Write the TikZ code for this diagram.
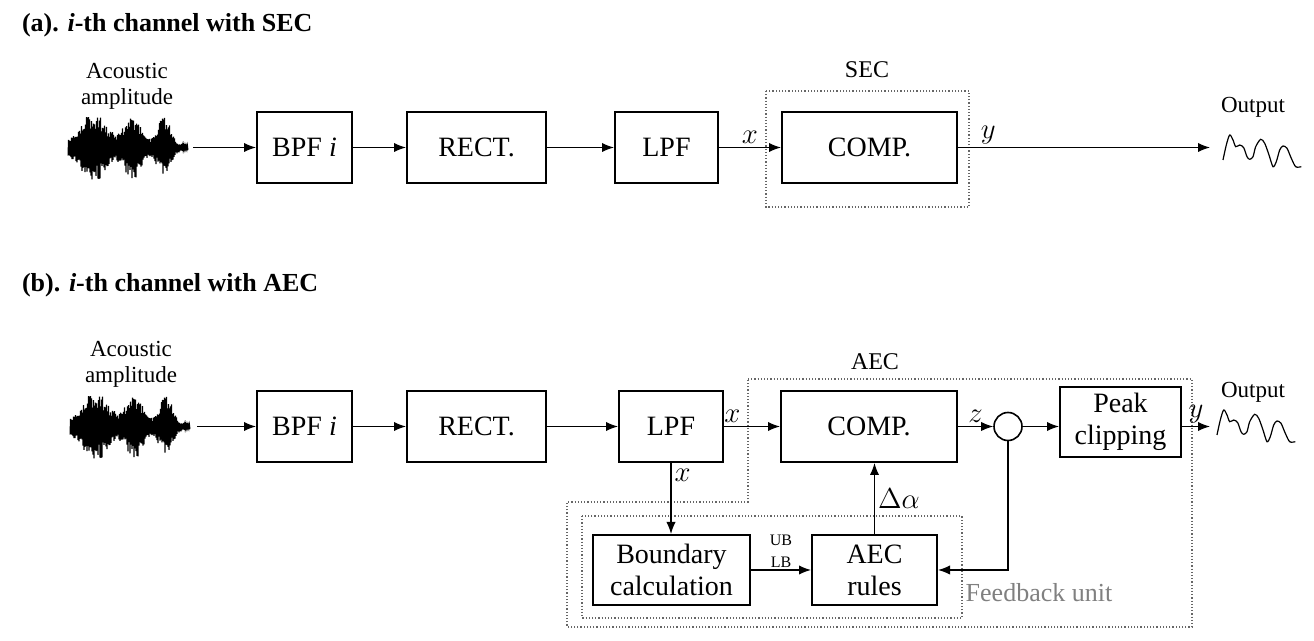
\documentclass[tikz,border=0pt]{standalone}
\usepackage{fontspec}
\setmainfont{Liberation Serif}
\usepackage{amsmath}
\usetikzlibrary{arrows.meta,positioning}

\tikzset{
  blk/.style={draw, line width=1pt, minimum height=35.5pt, inner sep=2pt,
    align=center, font=\fontsize{14}{16}\selectfont},
  arr/.style={-{Latex[length=6pt,width=4.6pt]}, line width=0.6pt},
  dotbox/.style={draw=black!60, densely dotted, line width=0.6pt},
  lbl/.style={inner sep=1.5pt, font=\fontsize{14}{16}\selectfont},
  small/.style={inner sep=1pt, align=center, font=\fontsize{8}{11}\selectfont},
  grplbl/.style={font=\fontsize{12}{14}\selectfont},
  sidetxt/.style={align=center, font=\fontsize{11.5}{13}\selectfont},
  title/.style={anchor=west, font=\fontsize{13}{15}\selectfont\bfseries},
  declare function={env(\t)=31*exp(max(-9,-((\t-25)/19)*((\t-25)/19)))
    +29*exp(max(-9,-((\t-65)/12)*((\t-65)/12)))
    +26*exp(max(-9,-((\t-96)/9.5)*((\t-96)/9.5)))+2.5;}
}

%% acoustic signal, drawn from its left end
\newcommand{\soundwave}{%
  \pgfmathsetseed{11}%
  \draw[line width=0.5pt] (0,0) \foreach \k in {0,...,240} {
    -- ({0.5*\k}, {(1-2*mod(\k,2))*(0.55+0.5*rnd)*env(0.5*\k)})};
}
%% output envelope, drawn from its top left corner
\newcommand{\outwave}{%
  \draw[line width=0.6pt] plot[smooth] coordinates {(0,25) (3.3,10) (6.7,0)
    (10,5) (12.7,11.7) (16.7,10) (20.7,12.7) (24,21.7) (26.7,24.3) (30,21.7)
    (32.7,11.7) (37.7,4.3) (41.7,8.3) (46,20) (50,31.7) (53.3,26.7) (56.7,15)
    (60,11) (64,13.3) (68.3,23.3) (72.7,31.7) (78.3,31.7)};
}

\begin{document}
\begin{tikzpicture}[x=0.5pt, y=-0.5pt]
    \fill[white] (0,0) rectangle (1314,641);
    \useasboundingbox (0,0) rectangle (1314,641);

    %% (a) channel with SEC
    \node[title] (tita) at (15,25) {(a). \textit{i}-th channel with SEC};
    \node[sidetxt] (acla) at (127,86) {Acoustic\\amplitude};
    \begin{scope}[shift={(68,147.5)}]
      \soundwave
    \end{scope}
    \coordinate (ina) at (193,147.5);
    \node[blk, minimum width=47.5pt] (bpfa) at (304.5,147.5) {BPF \textit{i}};
    \node[blk, minimum width=69.5pt] (recta) at (476.5,147.5) {RECT.};
    \node[blk, minimum width=51.5pt] (lpfa) at (666.5,147.5) {LPF};
    \node[blk, minimum width=87.5pt] (compa) at (869.5,147.5) {COMP.};
    \coordinate (outa) at (1210,147.5);

    \draw[dotbox] (766,91) rectangle (969,207);
    \node[grplbl] (seclbl) at (867,70) {SEC};

    \draw[arr] (ina) -- (bpfa);
    \draw[arr] (bpfa) -- (recta);
    \draw[arr] (recta) -- (lpfa);
    \draw[arr] (lpfa) -- node[lbl, above] {$x$} (compa);
    \draw[arr] (compa) -- node[lbl, above, pos=0.12] {$y$} (outa);

    \node[sidetxt] (outtxta) at (1253,107) {Output};
    \begin{scope}[shift={(1223,135)}]
      \outwave
    \end{scope}

    %% (b) channel with AEC
    \node[title] (titb) at (15,285) {(b). \textit{i}-th channel with AEC};
    \node[sidetxt] (aclb) at (131,364) {Acoustic\\amplitude};
    \begin{scope}[shift={(70,426.5)}]
      \soundwave
    \end{scope}
    \coordinate (inb) at (197,426.5);
    \node[blk, minimum width=47.5pt] (bpfb) at (304.5,426.5) {BPF \textit{i}};
    \node[blk, minimum width=69.5pt] (rectb) at (476.5,426.5) {RECT.};
    \node[blk, minimum width=52pt] (lpfb) at (671,426.5) {LPF};
    \node[blk, minimum width=88pt] (compb) at (869,426.5) {COMP.};
    \node[draw, circle, line width=0.8pt, minimum size=14pt, inner sep=0pt] (sumb) at (1008,426.5) {};
    \node[blk, minimum width=60.5pt, minimum height=35pt] (peakb) at (1120.5,422) {Peak\\clipping};
    \node[blk, minimum width=78.5pt, minimum height=35pt] (bndb) at (671.5,570) {Boundary\\calculation};
    \node[blk, minimum width=62.5pt, minimum height=35pt] (rulesb) at (874.5,570) {AEC\\rules};
    \coordinate (outb) at (1210,426.5);

    %% drawing the AEC and feedback frames
    \draw[dotbox] (748,379) -- (1192,379) -- (1192,627) -- (567,627) -- (567,502) -- (748,502) -- cycle;
    \node[grplbl] (aeclbl) at (875,362) {AEC};
    \draw[dotbox] (582,516) rectangle (962,618);
    \node[gray, font=\fontsize{13}{15}\selectfont] (fbtxt) at (1039,593) {Feedback unit};

    \draw[arr] (inb) -- (bpfb);
    \draw[arr] (bpfb) -- (rectb);
    \draw[arr] (rectb) -- (lpfb);
    \draw[arr] (lpfb) -- node[lbl, above, pos=0.15] {$x$} (compb);
    \draw[arr] (compb) -- node[lbl, above] {$z$} (sumb);
    \draw[arr] (sumb) -- (sumb -| peakb.west);
    \draw[arr] (peakb.east |- sumb) -- node[lbl, above] {$y$} (outb);
    \draw[arr] (lpfb.south) -- node[lbl, right, pos=0.17] {$x$} (lpfb.south |- bndb.north);
    \draw[arr] (bndb) -- node[small, above] {UB\\LB} (rulesb);
    \draw[arr] (rulesb.north) -- node[lbl, right] {$\Delta\alpha$} (rulesb.north |- compb.south);
    \draw[arr] (sumb.south) |- (rulesb.east);

    \node[sidetxt] (outtxtb) at (1253,392) {Output};
    \begin{scope}[shift={(1217,410)}]
      \outwave
    \end{scope}
\end{tikzpicture}
\end{document}
